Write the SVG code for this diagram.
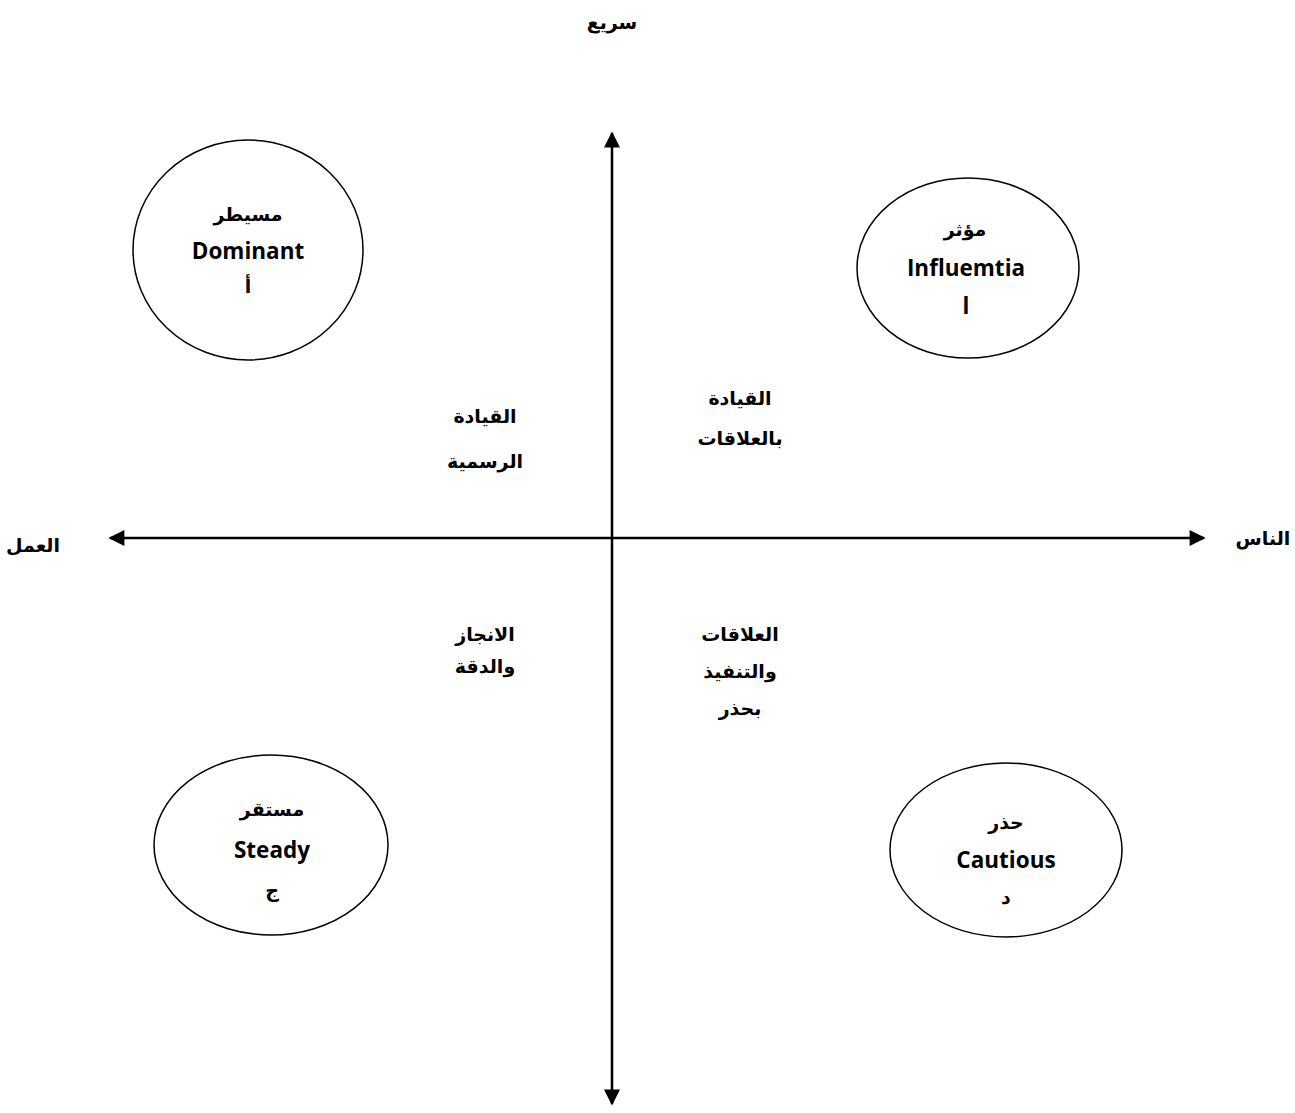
<svg xmlns="http://www.w3.org/2000/svg" width="1295" height="1113" viewBox="0 0 1295 1113">
<style>
.ar{font-family:"Liberation Sans","DejaVu Sans",sans-serif;font-weight:bold;font-size:19px;fill:#000;text-anchor:middle}
.en{font-family:"Open Sans",Lato,sans-serif;font-weight:bold;font-size:22.5px;fill:#000;text-anchor:middle}
.el{fill:none;stroke:#000;stroke-width:1.5}
.ax{stroke:#000;stroke-width:2.5;fill:none}
</style>
<defs>
<marker id="ah" viewBox="0 0 10 10" refX="9" refY="5" markerWidth="7" markerHeight="6.4" orient="auto-start-reverse" markerUnits="strokeWidth">
<path d="M0,0 L10,5 L0,10 Z" fill="#000"/>
</marker>
</defs>
<rect width="1295" height="1113" fill="#fff"/>
<g id="connectors">
<line class="ax" x1="612" y1="1104" x2="612" y2="133" marker-start="url(#ah)" marker-end="url(#ah)"/>
<line class="ax" x1="110" y1="538" x2="1204" y2="538" marker-start="url(#ah)" marker-end="url(#ah)"/>
</g>
<g id="axis-labels">
<text class="ar" x="612" y="29">سريع</text>
<text class="ar" x="33" y="552">العمل</text>
<text class="ar" x="1263" y="545">الناس</text>
</g>
<g id="node-dominant">
<ellipse class="el" cx="248" cy="250" rx="115" ry="110"/>
<text class="ar" x="248" y="221">مسيطر</text>
<text class="en" x="248" y="259">Dominant</text>
<text class="ar" x="248" y="293">أ</text>
</g>
<g id="node-influential">
<ellipse class="el" cx="968" cy="268" rx="111" ry="90"/>
<text class="ar" x="965" y="236">مؤثر</text>
<text class="en" x="966" y="276">Influemtia</text>
<text class="en" x="966" y="314">l</text>
</g>
<g id="node-steady">
<ellipse class="el" cx="271" cy="845" rx="117" ry="90"/>
<text class="ar" x="272" y="816">مستقر</text>
<text class="en" x="272" y="858">Steady</text>
<text class="ar" x="272" y="897">ج</text>
</g>
<g id="node-cautious">
<ellipse class="el" cx="1006" cy="850" rx="116" ry="87"/>
<text class="ar" x="1006" y="829">حذر</text>
<text class="en" x="1006" y="868">Cautious</text>
<text class="ar" x="1006" y="904">د</text>
</g>
<g id="quadrant-labels">
<text class="ar" x="485" y="423">القيادة</text>
<text class="ar" x="485" y="468">الرسمية</text>
<text class="ar" x="740" y="405">القيادة</text>
<text class="ar" x="740" y="445">بالعلاقات</text>
<text class="ar" x="485" y="641">الانجاز</text>
<text class="ar" x="485" y="673">والدقة</text>
<text class="ar" x="740" y="641">العلاقات</text>
<text class="ar" x="740" y="678">والتنفيذ</text>
<text class="ar" x="740" y="715">بحذر</text>
</g>
</svg>
